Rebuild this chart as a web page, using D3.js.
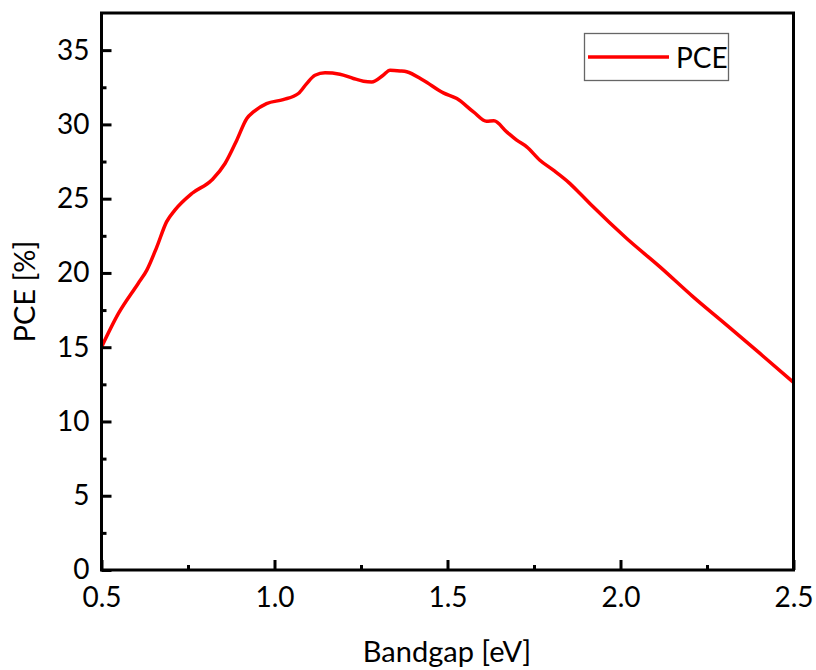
<!DOCTYPE html>
<html>
<head>
<meta charset="utf-8">
<script src="https://cdn.jsdelivr.net/npm/d3@7"></script>
<style>
  html, body { margin: 0; padding: 0; background: #fff; }
  svg { display: block; }
  text { font-family: Lato, "Open Sans", sans-serif; fill: #000; }
</style>
</head>
<body>
<svg id="chart" width="816" height="670"></svg>
<script>
// ---- data ----
const bandgap = [0.500, 0.549, 0.606, 0.631, 0.660, 0.688, 0.712, 0.761, 0.818, 0.823, 0.857, 0.891, 0.920, 0.939, 0.977, 1.025, 1.069, 1.093, 1.117, 1.146, 1.189, 1.228, 1.257, 1.281, 1.314, 1.334, 1.363, 1.382, 1.430, 1.488, 1.527, 1.575, 1.613, 1.634, 1.671, 1.700, 1.729, 1.767, 1.806, 1.850, 1.883, 1.921, 2.018, 2.114, 2.210, 2.307, 2.403, 2.500];
const pce = [15.0, 17.27, 19.29, 20.19, 21.76, 23.44, 24.23, 25.35, 26.24, 26.36, 27.37, 28.94, 30.40, 30.84, 31.40, 31.67, 32.08, 32.75, 33.31, 33.47, 33.38, 33.09, 32.91, 32.86, 33.31, 33.65, 33.60, 33.54, 32.97, 32.12, 31.74, 30.84, 30.21, 30.24, 29.50, 28.94, 28.49, 27.59, 26.92, 26.10, 25.35, 24.45, 22.32, 20.41, 18.39, 16.49, 14.58, 12.63];
const xMajorTicks = [0.5, 1.0, 1.5, 2.0, 2.5];
const xMinorTicks = [0.75, 1.25, 1.75, 2.25];
const yMajorTicks = [0, 5, 10, 15, 20, 25, 30, 35];
const yMinorTicks = [2.5, 7.5, 12.5, 17.5, 22.5, 27.5, 32.5];
const seriesName = "PCE";
const xTitle = "Bandgap [eV]";
const yTitle = "PCE [%]";

// ---- layout ----
const plotLeft = 101.5, plotRight = 793.5, plotTop = 13, plotBottom = 570;
const svg = d3.select("#chart");

const x = d3.scaleLinear().domain([0.5, 2.5]).range([plotLeft, plotRight]);
const y = d3.scaleLinear().domain([0, 37.5]).range([plotBottom, plotTop]);

// data line (under the frame)
const line = d3.line().x((d, i) => x(bandgap[i])).y((d, i) => y(pce[i])).curve(d3.curveMonotoneX);
svg.append("path")
  .datum(pce)
  .attr("d", line)
  .attr("fill", "none")
  .attr("stroke", "#ff0000")
  .attr("stroke-width", 3.5)
  .attr("stroke-linejoin", "round");

// x axis (ticks inward)
const xAxis = svg.append("g").attr("transform", `translate(0,${plotBottom})`)
  .call(d3.axisBottom(x).tickValues(xMajorTicks).tickFormat(d3.format(".1f")).tickSize(-10).tickPadding(0));
xAxis.select(".domain").remove();
xAxis.selectAll(".tick line").attr("stroke", "#000").attr("stroke-width", 3);
xAxis.selectAll(".tick text").attr("font-size", 28).attr("y", 36.5).attr("dy", 0)
  .style("font-family", "Lato, 'Open Sans', sans-serif");

const xMinor = svg.append("g").attr("transform", `translate(0,${plotBottom})`)
  .call(d3.axisBottom(x).tickValues(xMinorTicks).tickFormat("").tickSize(-5));
xMinor.select(".domain").remove();
xMinor.selectAll(".tick line").attr("stroke", "#000").attr("stroke-width", 3);

// y axis
const yAxis = svg.append("g").attr("transform", `translate(${plotLeft},0)`)
  .call(d3.axisLeft(y).tickValues(yMajorTicks).tickFormat(d3.format("d")).tickSize(-10).tickPadding(0));
yAxis.select(".domain").remove();
yAxis.selectAll(".tick line").attr("stroke", "#000").attr("stroke-width", 3);
yAxis.selectAll(".tick text").attr("font-size", 28).attr("x", -12).attr("dy", "0.32em")
  .style("font-family", "Lato, 'Open Sans', sans-serif");

const yMinor = svg.append("g").attr("transform", `translate(${plotLeft},0)`)
  .call(d3.axisLeft(y).tickValues(yMinorTicks).tickFormat("").tickSize(-5));
yMinor.select(".domain").remove();
yMinor.selectAll(".tick line").attr("stroke", "#000").attr("stroke-width", 3);

// frame
svg.append("rect")
  .attr("x", plotLeft).attr("y", plotTop)
  .attr("width", plotRight - plotLeft).attr("height", plotBottom - plotTop)
  .attr("fill", "none").attr("stroke", "#000").attr("stroke-width", 3);

// axis titles
svg.append("text")
  .attr("x", (plotLeft + plotRight) / 2 - 0.5).attr("y", 662)
  .attr("text-anchor", "middle").attr("font-size", 29)
  .text(xTitle);

svg.append("text")
  .attr("transform", "translate(35,291.5) rotate(-90)")
  .attr("text-anchor", "middle").attr("font-size", 29)
  .text(yTitle);

// legend
const lg = svg.append("g");
lg.append("rect").attr("x", 584.5).attr("y", 33.5).attr("width", 144).attr("height", 47)
  .attr("fill", "#fff").attr("stroke", "#666").attr("stroke-width", 1.3);
lg.append("line").attr("x1", 588).attr("x2", 669).attr("y1", 57).attr("y2", 57)
  .attr("stroke", "#ff0000").attr("stroke-width", 3.5);
lg.append("text").attr("x", 676).attr("y", 68).attr("font-size", 28).text(seriesName);
</script>
</body>
</html>
